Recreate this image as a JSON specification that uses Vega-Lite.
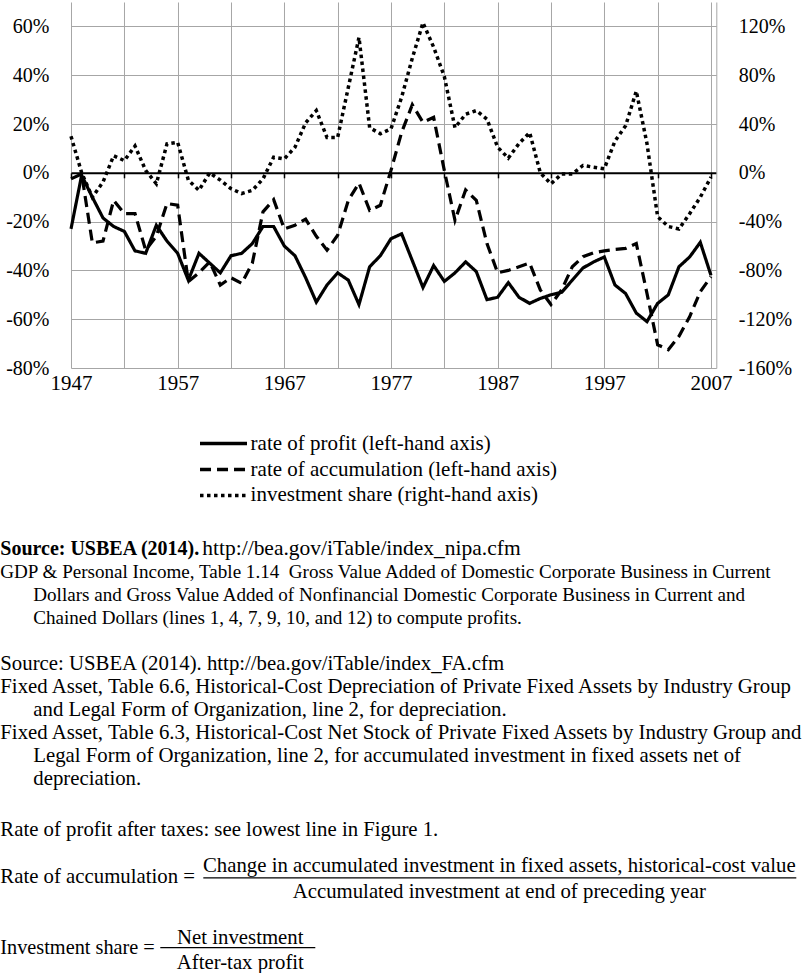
{
  "$schema": "https://vega.github.io/schema/vega-lite/v6.json",
  "background": "white",
  "padding": {"left": 0, "top": 2, "right": 0, "bottom": 0},
  "autosize": {"type": "pad"},
  "config": {
    "view": {"stroke": null},
    "font": "Liberation Serif",
    "axis": {"labelFont": "Liberation Serif", "labelFontSize": 20, "labelColor": "black", "title": null},
    "text": {"font": "Liberation Serif", "fontSize": 21, "color": "black"}
  },
  "datasets": {
    "series": [
      {"year":1947,"series":"profit","value":-23},{"year":1948,"series":"profit","value":-1},{"year":1949,"series":"profit","value":-10},{"year":1950,"series":"profit","value":-18.5},{"year":1951,"series":"profit","value":-22},{"year":1952,"series":"profit","value":-24},{"year":1953,"series":"profit","value":-32},{"year":1954,"series":"profit","value":-33},{"year":1955,"series":"profit","value":-21.5},{"year":1956,"series":"profit","value":-28},{"year":1957,"series":"profit","value":-33},{"year":1958,"series":"profit","value":-44},{"year":1959,"series":"profit","value":-33},{"year":1960,"series":"profit","value":-37},{"year":1961,"series":"profit","value":-41},{"year":1962,"series":"profit","value":-34},{"year":1963,"series":"profit","value":-33},{"year":1964,"series":"profit","value":-29},{"year":1965,"series":"profit","value":-22},{"year":1966,"series":"profit","value":-22},{"year":1967,"series":"profit","value":-30},{"year":1968,"series":"profit","value":-34},{"year":1969,"series":"profit","value":-43},{"year":1970,"series":"profit","value":-53},{"year":1971,"series":"profit","value":-46},{"year":1972,"series":"profit","value":-41},{"year":1973,"series":"profit","value":-44},{"year":1974,"series":"profit","value":-54},{"year":1975,"series":"profit","value":-38.5},{"year":1976,"series":"profit","value":-34},{"year":1977,"series":"profit","value":-27},{"year":1978,"series":"profit","value":-25},{"year":1979,"series":"profit","value":-36},{"year":1980,"series":"profit","value":-47},{"year":1981,"series":"profit","value":-38},{"year":1982,"series":"profit","value":-44.5},{"year":1983,"series":"profit","value":-41},{"year":1984,"series":"profit","value":-36.5},{"year":1985,"series":"profit","value":-40.5},{"year":1986,"series":"profit","value":-52},{"year":1987,"series":"profit","value":-51},{"year":1988,"series":"profit","value":-45},{"year":1989,"series":"profit","value":-51},{"year":1990,"series":"profit","value":-53.5},{"year":1991,"series":"profit","value":-51.5},{"year":1992,"series":"profit","value":-50},{"year":1993,"series":"profit","value":-49},{"year":1994,"series":"profit","value":-44},{"year":1995,"series":"profit","value":-39},{"year":1996,"series":"profit","value":-36.5},{"year":1997,"series":"profit","value":-34.5},{"year":1998,"series":"profit","value":-46},{"year":1999,"series":"profit","value":-49.5},{"year":2000,"series":"profit","value":-57.5},{"year":2001,"series":"profit","value":-61},{"year":2002,"series":"profit","value":-53.5},{"year":2003,"series":"profit","value":-50},{"year":2004,"series":"profit","value":-38.5},{"year":2005,"series":"profit","value":-34.5},{"year":2006,"series":"profit","value":-28.5},{"year":2007,"series":"profit","value":-42},
      {"year":1947,"series":"accumulation","value":-2.5},{"year":1948,"series":"accumulation","value":-0.5},{"year":1949,"series":"accumulation","value":-28.7},{"year":1950,"series":"accumulation","value":-28},{"year":1951,"series":"accumulation","value":-11.3},{"year":1952,"series":"accumulation","value":-16.7},{"year":1953,"series":"accumulation","value":-16.7},{"year":1954,"series":"accumulation","value":-31.7},{"year":1955,"series":"accumulation","value":-26},{"year":1956,"series":"accumulation","value":-12.6},{"year":1957,"series":"accumulation","value":-13.3},{"year":1958,"series":"accumulation","value":-44.6},{"year":1959,"series":"accumulation","value":-41},{"year":1960,"series":"accumulation","value":-36.5},{"year":1961,"series":"accumulation","value":-46},{"year":1962,"series":"accumulation","value":-43},{"year":1963,"series":"accumulation","value":-45.3},{"year":1964,"series":"accumulation","value":-37},{"year":1965,"series":"accumulation","value":-16},{"year":1966,"series":"accumulation","value":-11},{"year":1967,"series":"accumulation","value":-23},{"year":1968,"series":"accumulation","value":-21.5},{"year":1969,"series":"accumulation","value":-19},{"year":1970,"series":"accumulation","value":-26},{"year":1971,"series":"accumulation","value":-31.7},{"year":1972,"series":"accumulation","value":-25.6},{"year":1973,"series":"accumulation","value":-11.3},{"year":1974,"series":"accumulation","value":-4.2},{"year":1975,"series":"accumulation","value":-15.4},{"year":1976,"series":"accumulation","value":-13.3},{"year":1977,"series":"accumulation","value":1},{"year":1978,"series":"accumulation","value":16.6},{"year":1979,"series":"accumulation","value":27.9},{"year":1980,"series":"accumulation","value":20.7},{"year":1981,"series":"accumulation","value":22.7},{"year":1982,"series":"accumulation","value":1},{"year":1983,"series":"accumulation","value":-19.5},{"year":1984,"series":"accumulation","value":-7},{"year":1985,"series":"accumulation","value":-11.3},{"year":1986,"series":"accumulation","value":-29},{"year":1987,"series":"accumulation","value":-41},{"year":1988,"series":"accumulation","value":-40},{"year":1989,"series":"accumulation","value":-38.5},{"year":1990,"series":"accumulation","value":-37},{"year":1991,"series":"accumulation","value":-48},{"year":1992,"series":"accumulation","value":-54},{"year":1993,"series":"accumulation","value":-48},{"year":1994,"series":"accumulation","value":-38.5},{"year":1995,"series":"accumulation","value":-34.4},{"year":1996,"series":"accumulation","value":-32.8},{"year":1997,"series":"accumulation","value":-32},{"year":1998,"series":"accumulation","value":-31.4},{"year":1999,"series":"accumulation","value":-31},{"year":2000,"series":"accumulation","value":-29},{"year":2001,"series":"accumulation","value":-49.4},{"year":2002,"series":"accumulation","value":-70.5},{"year":2003,"series":"accumulation","value":-72.5},{"year":2004,"series":"accumulation","value":-67},{"year":2005,"series":"accumulation","value":-59},{"year":2006,"series":"accumulation","value":-48.7},{"year":2007,"series":"accumulation","value":-42.6},
      {"year":1947,"series":"investment","value":30},{"year":1948,"series":"investment","value":0},{"year":1949,"series":"investment","value":-20},{"year":1950,"series":"investment","value":-7.6},{"year":1951,"series":"investment","value":14},{"year":1952,"series":"investment","value":10},{"year":1953,"series":"investment","value":22},{"year":1954,"series":"investment","value":2},{"year":1955,"series":"investment","value":-9},{"year":1956,"series":"investment","value":23.7},{"year":1957,"series":"investment","value":25},{"year":1958,"series":"investment","value":-6},{"year":1959,"series":"investment","value":-14.4},{"year":1960,"series":"investment","value":0},{"year":1961,"series":"investment","value":-6},{"year":1962,"series":"investment","value":-13},{"year":1963,"series":"investment","value":-17},{"year":1964,"series":"investment","value":-14.4},{"year":1965,"series":"investment","value":-5},{"year":1966,"series":"investment","value":12.8},{"year":1967,"series":"investment","value":11.4},{"year":1968,"series":"investment","value":21},{"year":1969,"series":"investment","value":41},{"year":1970,"series":"investment","value":51},{"year":1971,"series":"investment","value":29},{"year":1972,"series":"investment","value":29},{"year":1973,"series":"investment","value":70},{"year":1974,"series":"investment","value":111},{"year":1975,"series":"investment","value":37},{"year":1976,"series":"investment","value":32},{"year":1977,"series":"investment","value":36},{"year":1978,"series":"investment","value":62},{"year":1979,"series":"investment","value":94},{"year":1980,"series":"investment","value":123},{"year":1981,"series":"investment","value":103},{"year":1982,"series":"investment","value":79},{"year":1983,"series":"investment","value":37},{"year":1984,"series":"investment","value":48},{"year":1985,"series":"investment","value":51},{"year":1986,"series":"investment","value":44},{"year":1987,"series":"investment","value":21},{"year":1988,"series":"investment","value":12},{"year":1989,"series":"investment","value":24},{"year":1990,"series":"investment","value":33},{"year":1991,"series":"investment","value":0},{"year":1992,"series":"investment","value":-9},{"year":1993,"series":"investment","value":-1},{"year":1994,"series":"investment","value":-1},{"year":1995,"series":"investment","value":6},{"year":1996,"series":"investment","value":4.6},{"year":1997,"series":"investment","value":3.3},{"year":1998,"series":"investment","value":26},{"year":1999,"series":"investment","value":38.6},{"year":2000,"series":"investment","value":67},{"year":2001,"series":"investment","value":24},{"year":2002,"series":"investment","value":-36},{"year":2003,"series":"investment","value":-44},{"year":2004,"series":"investment","value":-46},{"year":2005,"series":"investment","value":-33.5},{"year":2006,"series":"investment","value":-20},{"year":2007,"series":"investment","value":-3.5}
    ],
    "notes": [
      {"role":"heading","line":0,"col":0,"text":"Source: USBEA (2014)."},
      {"role":"link","line":0,"col":202,"text":"http://bea.gov/iTable/index_nipa.cfm"},
      {"role":"detail","line":1,"col":0,"text":"GDP & Personal Income, Table 1.14\u00a0 Gross Value Added of Domestic Corporate Business in Current"},
      {"role":"detail","line":2,"col":33,"text":"Dollars and Gross Value Added of Nonfinancial Domestic Corporate Business in Current and"},
      {"role":"detail","line":3,"col":33,"text":"Chained Dollars (lines 1, 4, 7, 9, 10, and 12) to compute profits."},
      {"role":"body","line":5,"col":0,"text":"Source: USBEA (2014). http://bea.gov/iTable/index_FA.cfm"},
      {"role":"body","line":6,"col":0,"text":"Fixed Asset, Table 6.6, Historical-Cost Depreciation of Private Fixed Assets by Industry Group"},
      {"role":"body","line":7,"col":33,"text":"and Legal Form of Organization, line 2, for depreciation."},
      {"role":"body","line":8,"col":0,"text":"Fixed Asset, Table 6.3, Historical-Cost Net Stock of Private Fixed Assets by Industry Group and"},
      {"role":"body","line":9,"col":33,"text":"Legal Form of Organization, line 2, for accumulated investment in fixed assets net of"},
      {"role":"body","line":10,"col":33,"text":"depreciation."},
      {"role":"body","line":12.2,"col":0,"text":"Rate of profit after taxes: see lowest line in Figure 1."},
      {"role":"body","line":14.26,"col":0,"text":"Rate of accumulation ="},
      {"role":"fraction","line":13.78,"col":499,"text":"Change in accumulated investment in fixed assets, historical-cost value"},
      {"role":"fraction","line":14.91,"col":499,"text":"Accumulated investment at end of preceding year"},
      {"role":"formula","line":17.35,"col":0,"text":"Investment share ="},
      {"role":"fraction","line":16.91,"col":240,"text":"Net investment"},
      {"role":"fraction","line":18.0,"col":240,"text":"After-tax profit"},
      {"role":"bar","line":14.3,"col":203,"col2":796,"text":""},
      {"role":"bar","line":17.33,"col":160,"col2":315,"text":""}
    ]
  },
  "vconcat": [
    {
      "width": 645.3,
      "height": 366,
      "data": {"name": "series"},
      "layer": [
        {
          "transform": [{"filter": "datum.series != 'investment'"}],
          "mark": {"type": "line", "color": "black", "strokeWidth": 3.2},
          "encoding": {
            "x": {"field": "year", "type": "quantitative",
              "scale": {"domain": [1947, 2007.5], "nice": false, "zero": false},
              "axis": {"orient": "bottom", "values": [1947,1952,1957,1962,1967,1972,1977,1982,1987,1992,1997,2002,2007],
                "labelExpr": "(datum.value - 1947) % 10 == 0 ? '' + datum.value : ''", "labelFontSize": 21,
                "grid": true, "gridColor": "#a6a6a6", "gridWidth": 1, "domain": false, "ticks": false, "labelPadding": 4, "labelFlush": false}},
            "y": {"field": "value", "type": "quantitative",
              "scale": {"domain": [-80, 70], "nice": false, "zero": false},
              "axis": {"orient": "left", "values": [-80,-60,-40,-20,0,20,40,60], "labelExpr": "datum.value + '%'",
                "grid": true, "gridColor": "#a6a6a6", "gridWidth": 1, "domain": false, "ticks": false, "labelPadding": 22}},
            "strokeDash": {"field": "series", "type": "nominal",
              "scale": {"domain": ["profit", "accumulation", "investment"], "range": [[1, 0], [11, 6], [3.5, 3.5]]},
              "legend": {"orient": "none", "legendX": 141, "legendY": 430, "title": null, "symbolType": "M-2.5,0H2.5", "symbolSize": 353,
                "symbolStrokeWidth": 3.5, "symbolStrokeColor": "black", "symbolFillColor": "transparent", "labelFont": "Liberation Serif", "labelFontSize": 21, "labelColor": "black",
                "labelLimit": 0, "rowPadding": 4, "labelOffset": 15.6,
                "labelExpr": "datum.label == 'profit' ? 'rate of profit (left-hand axis)' : datum.label == 'accumulation' ? 'rate of accumulation (left-hand axis)' : 'investment share (right-hand axis)'"}}
          }
        },
        {
          "transform": [{"filter": "datum.series == 'investment'"}],
          "mark": {"type": "line", "color": "black", "strokeWidth": 3.5},
          "encoding": {
            "x": {"field": "year", "type": "quantitative",
              "axis": {"orient": "bottom", "offset": -195.2, "values": [1947,1952,1957,1962,1967,1972,1977,1982,1987,1992,1997,2002,2007],
                "labels": false, "grid": false, "domain": true, "domainColor": "black", "domainWidth": 2, "ticks": true, "tickColor": "black", "tickWidth": 1.5, "tickSize": 5}},
            "y": {"field": "value", "type": "quantitative",
              "scale": {"domain": [-160, 140], "nice": false, "zero": false},
              "axis": {"orient": "right", "values": [-160,-120,-80,-40,0,40,80,120], "labelExpr": "datum.value + '%'",
                "grid": false, "domain": true, "domainColor": "#a6a6a6", "domainWidth": 1, "ticks": false, "labelPadding": 22}},
            "strokeDash": {"field": "series", "type": "nominal"}
          }
        }
      ],
      "resolve": {"scale": {"y": "independent"}, "axis": {"x": "independent", "y": "independent"}}
    },
    {
      "width": 645.3,
      "height": 414,
      "data": {"name": "notes"},
      "encoding": {
        "x": {"field": "col", "type": "quantitative", "scale": {"domain": [70.7, 716], "nice": false, "zero": false}, "axis": null},
        "y": {"field": "line", "type": "quantitative", "scale": {"domain": [0, 18], "reverse": true, "nice": false, "zero": false}, "axis": null}
      },
      "layer": [
        {"transform": [{"filter": "datum.role == 'body'"}], "mark": {"type": "text", "align": "left", "baseline": "middle", "fontSize": 20.8}, "encoding": {"text": {"field": "text"}}},
        {"transform": [{"filter": "datum.role == 'formula'"}], "mark": {"type": "text", "align": "left", "baseline": "middle", "fontSize": 20.3}, "encoding": {"text": {"field": "text"}}},
        {"transform": [{"filter": "datum.role == 'link'"}], "mark": {"type": "text", "align": "left", "baseline": "middle", "fontSize": 21.5}, "encoding": {"text": {"field": "text"}}},
        {"transform": [{"filter": "datum.role == 'detail'"}], "mark": {"type": "text", "align": "left", "baseline": "middle", "fontSize": 19.1}, "encoding": {"text": {"field": "text"}}},
        {"transform": [{"filter": "datum.role == 'heading'"}], "mark": {"type": "text", "align": "left", "baseline": "middle", "fontWeight": "bold", "fontSize": 20}, "encoding": {"text": {"field": "text"}}},
        {"transform": [{"filter": "datum.role == 'fraction'"}], "mark": {"type": "text", "align": "center", "baseline": "middle", "fontSize": 20.8}, "encoding": {"text": {"field": "text"}}},
        {"transform": [{"filter": "datum.role == 'bar'"}], "mark": {"type": "rule", "color": "black", "strokeWidth": 1.2}, "encoding": {"x2": {"field": "col2"}}}
      ]
    }
  ],
  "bounds": "flush",
  "spacing": 181
}
